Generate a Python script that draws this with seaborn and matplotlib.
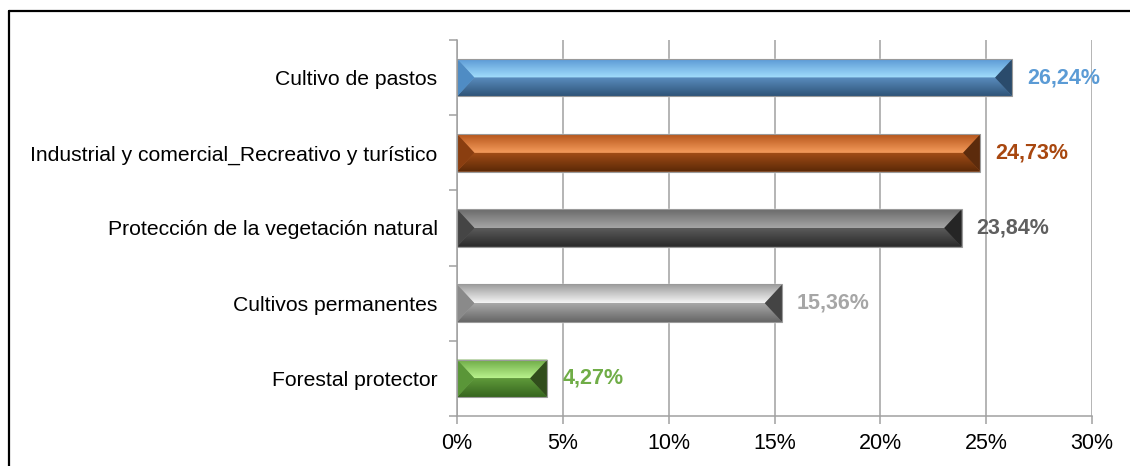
import numpy as np
import pandas as pd
import matplotlib.pyplot as plt
import seaborn as sns
from matplotlib.patches import Polygon
from matplotlib.lines import Line2D
from matplotlib.colors import LinearSegmentedColormap

# data
categories = ['Cultivo de pastos',
              'Industrial y comercial_Recreativo y turístico',
              'Protección de la vegetación natural',
              'Cultivos permanentes',
              'Forestal protector']
values = [26.24, 24.73, 23.84, 15.36, 4.27]
label_colors = ['#5B9BD5', '#A8470F', '#5F5F5F', '#A6A6A6', '#70AD47']
base_colors = ['#5B9BD5', '#C55A1A', '#5A5A5A', '#A6A6A6', '#70AD47']
# bevel shades: top face (edge -> middle), bottom face (middle -> edge), left, right
bevel = [
    (('#5C9AD6', '#A2DEFC'), ('#5A8DBE', '#2F5479'), '#4F8CC4', '#1F3D5C'),
    (('#B5551B', '#F59C5C'), ('#A04C16', '#5A2807'), '#8A3E10', '#4E2206'),
    (('#6A6A6A', '#A5A5A5'), ('#5A5A5A', '#2A2A2A'), '#454545', '#1C1C1C'),
    (('#9C9C9C', '#F4F4F4'), ('#A8A8A8', '#666666'), '#8A8A8A', '#333333'),
    (('#6CA844', '#B8F28C'), ('#5F9A3A', '#37661F'), '#5A9638', '#263F12'),
]
xticks = [0, 5, 10, 15, 20, 25, 30]

df = pd.DataFrame({'cat': categories, 'val': values})

sns.set_style('white')
plt.rcParams['font.family'] = ['Liberation Sans', 'DejaVu Sans']

fig = plt.figure(figsize=(11.3, 4.66), dpi=100)
ax = fig.add_axes([457 / 1130, 50 / 466, 635 / 1130, 376 / 466])

sns.barplot(data=df, x='val', y='cat', hue='cat', palette=base_colors,
            orient='h', width=0.5, legend=False, ax=ax, zorder=3)


def grad_poly(ax, verts, c1, c2, y_top, y_bot):
    poly = Polygon(verts, closed=True, facecolor='none', edgecolor='none',
                   transform=ax.transData)
    ax.add_patch(poly)
    cmap = LinearSegmentedColormap.from_list('g', [c1, c2])
    grad = np.linspace(0, 1, 64).reshape(-1, 1)
    xs = [v[0] for v in verts]
    im = ax.imshow(grad, cmap=cmap, aspect='auto', zorder=4,
                   extent=[min(xs), max(xs), y_bot, y_top], origin='upper',
                   interpolation='bilinear')
    im.set_clip_path(poly)


dx = 0.82   # horizontal bevel depth (data units)
for i, p in enumerate(ax.patches[:len(values)]):
    x0, w = p.get_x(), p.get_width()
    y0, h = p.get_y(), p.get_height()
    x1 = x0 + w
    ytop, ybot = y0, y0 + h          # y axis inverted: y0 is visual top
    ym = y0 + h * 0.5
    dxx = min(dx, w / 2.2)
    (t1, t2), (b1, b2), cl, cr = bevel[i]
    # top face
    grad_poly(ax, [(x0, ytop), (x1, ytop), (x1 - dxx, ym), (x0 + dxx, ym)],
              t1, t2, ytop, ym)
    # bottom face
    grad_poly(ax, [(x0 + dxx, ym), (x1 - dxx, ym), (x1, ybot), (x0, ybot)],
              b1, b2, ym, ybot)
    # left and right facets
    ax.add_patch(Polygon([(x0, ytop), (x0 + dxx, ym), (x0, ybot)],
                         facecolor=cl, edgecolor='none', zorder=5))
    ax.add_patch(Polygon([(x1, ytop), (x1 - dxx, ym), (x1, ybot)],
                         facecolor=cr, edgecolor='none', alpha=0.85, zorder=5))
    ax.add_patch(plt.Rectangle((x0, y0), w, h, facecolor='none',
                               edgecolor='#9A9A9A', lw=0.8, zorder=6))
    ax.text(x1 + 0.7, ym, f'{values[i]:.2f}%'.replace('.', ','),
            va='center', ha='left', fontsize=15.5, fontweight='bold',
            color=label_colors[i], zorder=7)

ax.set_xlim(0, 30)
ax.set_ylim(4.5, -0.5)
ax.set_xticks(xticks)
ax.set_xticklabels([f'{t}%' for t in xticks])
ax.set_xlabel('')
ax.set_ylabel('')
ax.grid(axis='x', color='#A0A0A0', lw=1.1, zorder=0)
ax.grid(axis='y', visible=False)
ax.set_axisbelow(True)

for s in ['top', 'right']:
    ax.spines[s].set_visible(False)
for s in ['left', 'bottom']:
    ax.spines[s].set_visible(True)
    ax.spines[s].set_color('#A0A0A0')
    ax.spines[s].set_linewidth(1.1)

ax.set_yticks(np.arange(-0.5, 5, 1), minor=True)
ax.tick_params(axis='y', which='major', length=0, pad=14, labelsize=15.2,
               labelcolor='black')
ax.tick_params(axis='y', which='minor', length=6, color='#A0A0A0', width=1.1,
               direction='out', left=True)
ax.tick_params(axis='x', which='major', length=6, color='#A0A0A0', width=1.1,
               direction='out', bottom=True, pad=6, labelsize=15.5,
               labelcolor='black')

# outer frame (top and left edges)
fy = 1 - 11 / 466
fx = 9 / 1130
fig.add_artist(Line2D([fx, 1], [fy, fy], color='black', lw=1.6,
                      transform=fig.transFigure))
fig.add_artist(Line2D([fx, fx], [0, fy], color='black', lw=1.6,
                      transform=fig.transFigure))

fig.savefig('out.png', dpi=100)
